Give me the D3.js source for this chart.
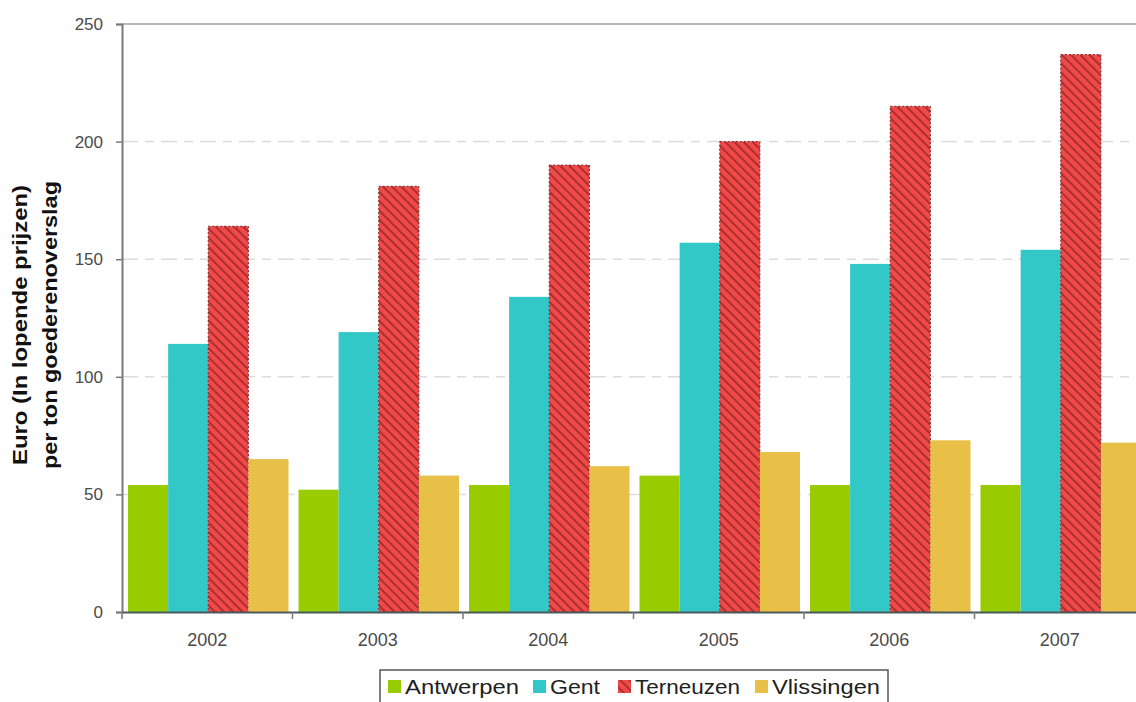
<!DOCTYPE html>
<html>
<head>
<meta charset="utf-8">
<script src="https://cdn.jsdelivr.net/npm/d3@7/dist/d3.min.js"></script>
<style>
  html, body { margin: 0; padding: 0; background: #fff; }
  svg { display: block; }
</style>
</head>
<body>
<svg id="chart" width="1136" height="702"></svg>
<script>
// Haven data: cost per ton of cargo handled, current prices
const years = ["2002", "2003", "2004", "2005", "2006", "2007"];
const seriesNames = ["Antwerpen", "Gent", "Terneuzen", "Vlissingen"];
const antwerpen = [54, 52, 54, 58, 54, 54];
const gent = [114, 119, 134, 157, 148, 154];
const terneuzen = [164, 181, 190, 200, 215, 237];
const vlissingen = [65, 58, 62, 68, 73, 72];
const yTicks = [0, 50, 100, 150, 200, 250];

const seriesValues = [antwerpen, gent, terneuzen, vlissingen];
const colors = ["#99cc00", "#33c8c8", "url(#hatch)", "#e8c048"];
const FONT = "Liberation Sans, Arial, sans-serif";

const svg = d3.select("#chart");
const margin = { left: 122, top: 24, bottom: 90 };
const plotW = 1023;          // runs past the right edge of the page
const plotH = 702 - margin.top - margin.bottom;

// Diagonal hatch for Terneuzen
const defs = svg.append("defs");
const pat = defs.append("pattern")
  .attr("id", "hatch")
  .attr("patternUnits", "userSpaceOnUse")
  .attr("width", 6.5).attr("height", 6.5)
  .attr("patternTransform", "rotate(-45)");
pat.append("rect").attr("width", 6.5).attr("height", 6.5).attr("fill", "#f24848");
pat.append("rect").attr("x", 0).attr("y", 0).attr("width", 2).attr("height", 6.5).attr("fill", "#a83030");

const g = svg.append("g").attr("transform", `translate(${margin.left},${margin.top})`);

const x0 = d3.scaleBand().domain(years).range([0, plotW]).paddingInner(0).paddingOuter(0);
const x1 = d3.scaleBand().domain(seriesNames).range([6, x0.bandwidth() - 4]).padding(0);
const y = d3.scaleLinear().domain([0, 250]).range([plotH, 0]);

// Dashed gridlines
g.append("g")
  .selectAll("line")
  .data(yTicks.filter(t => t > 0 && t < 250))
  .join("line")
  .attr("x1", 0).attr("x2", plotW)
  .attr("y1", d => y(d)).attr("y2", d => y(d))
  .attr("stroke", "#dcdcdc")
  .attr("stroke-width", 1.5)
  .attr("stroke-dasharray", "16,7,9,7");

// Top frame line
g.append("line")
  .attr("x1", 0).attr("x2", plotW)
  .attr("y1", y(250)).attr("y2", y(250))
  .attr("stroke", "#b8b8b8").attr("stroke-width", 2);

// Bars
const groups = g.selectAll("g.year")
  .data(years)
  .join("g")
  .attr("class", "year")
  .attr("transform", d => `translate(${x0(d)},0)`);

groups.selectAll("rect")
  .data((yr, i) => seriesNames.map((s, k) => ({ s, k, v: seriesValues[k][i] })))
  .join("rect")
  .attr("x", d => x1(d.s))
  .attr("width", x1.bandwidth())
  .attr("y", d => y(d.v))
  .attr("height", d => plotH - y(d.v))
  .attr("fill", d => colors[d.k])
  .attr("stroke", d => d.k === 2 ? "#7a2020" : "none")
  .attr("stroke-width", 1)
  .attr("stroke-dasharray", d => d.k === 2 ? "2,2" : null);

// Y axis
const yAxis = d3.axisLeft(y).tickValues(yTicks).tickSize(6).tickPadding(13);
const ya = g.append("g").call(yAxis);
ya.select(".domain").attr("stroke", "#7a7a7a").attr("stroke-width", 2);
ya.selectAll(".tick line").attr("stroke", "#7a7a7a").attr("stroke-width", 1.5);
ya.selectAll(".tick text")
  .attr("font-family", FONT)
  .attr("font-size", 17).attr("fill", "#4a4a4a");

// X axis
const xAxis = d3.axisBottom(x0).tickSize(0).tickPadding(21);
const xa = g.append("g").attr("transform", `translate(0,${plotH})`).call(xAxis);
xa.select(".domain").attr("stroke", "#4a5a5a").attr("stroke-width", 2);
xa.selectAll(".tick text")
  .attr("font-family", FONT)
  .attr("font-size", 18).attr("fill", "#4a4a4a");
// Boundary ticks between years
g.append("g").selectAll("line")
  .data(years.map(d => x0(d)).concat([plotW]))
  .join("line")
  .attr("x1", d => d).attr("x2", d => d)
  .attr("y1", plotH).attr("y2", plotH + 7)
  .attr("stroke", "#7a7a7a").attr("stroke-width", 1.5);

// Y axis title
const title = svg.append("text")
  .attr("transform", "translate(0,325) rotate(-90)")
  .attr("text-anchor", "middle")
  .attr("font-family", FONT)
  .attr("font-size", 20).attr("font-weight", "bold").attr("fill", "#111");
title.append("tspan").attr("x", 0).attr("y", 27)
  .attr("textLength", 280).attr("lengthAdjust", "spacingAndGlyphs")
  .text("Euro (In lopende prijzen)");
title.append("tspan").attr("x", 0).attr("y", 57)
  .attr("textLength", 288).attr("lengthAdjust", "spacingAndGlyphs")
  .text("per ton goederenoverslag");

// Legend
const legend = svg.append("g").attr("transform", "translate(380,670)");
legend.append("rect")
  .attr("x", 0).attr("y", 0).attr("width", 508).attr("height", 40)
  .attr("fill", "#fff").attr("stroke", "#555").attr("stroke-width", 1.5);
const items = [
  { name: seriesNames[0], x: 8, len: 114 },
  { name: seriesNames[1], x: 153, len: 50 },
  { name: seriesNames[2], x: 238, len: 105 },
  { name: seriesNames[3], x: 375, len: 108 }
];
const li = legend.selectAll("g.item").data(items).join("g")
  .attr("class", "item")
  .attr("transform", d => `translate(${d.x},0)`);
li.append("rect")
  .attr("x", 0).attr("y", 10).attr("width", 13).attr("height", 13)
  .attr("fill", (d, i) => colors[i]);
li.append("text")
  .attr("x", 17).attr("y", 24)
  .attr("font-family", FONT)
  .attr("font-size", 20).attr("fill", "#222")
  .attr("textLength", d => d.len).attr("lengthAdjust", "spacingAndGlyphs")
  .text(d => d.name);
</script>
</body>
</html>
